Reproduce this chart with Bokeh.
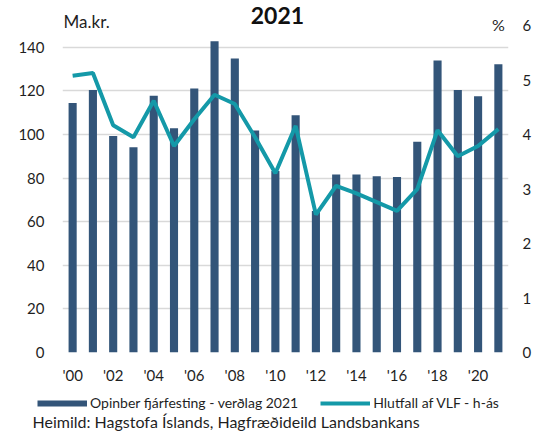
from bokeh.plotting import figure
from bokeh.layouts import column
from bokeh.models import Range1d, LinearAxis, FixedTicker, Legend, LegendItem, Label
from bokeh.embed import file_html
from bokeh.resources import INLINE

years = list(range(2000, 2022))
investment = [114.5, 120.4, 99.3, 94.2, 117.8, 102.9, 121.1, 142.8, 134.9, 101.9, 83.3,
              108.8, 64.9, 81.7, 81.7, 80.9, 80.5, 96.7, 134.0, 120.4, 117.6, 132.3]
share_gdp = [5.08, 5.13, 4.17, 3.95, 4.62, 3.79, 4.28, 4.73, 4.56, 3.95, 3.29,
             4.16, 2.53, 3.06, 2.92, 2.76, 2.60, 3.00, 4.08, 3.60, 3.79, 4.10]
tick_years = [2000, 2002, 2004, 2006, 2008, 2010, 2012, 2014, 2016, 2018, 2020]
tick_labels = ["'00", "'02", "'04", "'06", "'08", "'10", "'12", "'14", "'16", "'18", "'20"]
left_ticks = [0, 20, 40, 60, 80, 100, 120, 140]
right_ticks = [0, 1, 2, 3, 4, 5, 6]

BAR = "#335579"
LINE = "#1499a8"
TXT = "#1f1f1f"
FONT = "Lato"

Y_TOP = 161.5          # left-axis value at the top edge of the plot area
RATIO = 25.0           # left units per right-axis unit (150 <-> 6 %)

p = figure(width=549, height=386, output_backend="svg", toolbar_location=None,
           x_range=Range1d(1999.5, 2021.5), y_range=Range1d(0, Y_TOP),
           min_border_left=62, min_border_right=41, min_border_top=0, min_border_bottom=34,
           outline_line_color=None)
p.extra_y_ranges = {"pct": Range1d(0, Y_TOP / RATIO)}

p.xgrid.visible = False
p.ygrid.ticker = FixedTicker(ticks=left_ticks)
p.ygrid.grid_line_color = "#d9d9d9"
p.ygrid.grid_line_width = 1.5

bars = p.vbar(x=years, top=investment, width=0.4, fill_color=BAR, line_color=None)
line = p.line(x=years, y=share_gdp, y_range_name="pct", line_color=LINE, line_width=4)

def style_axis(ax, standoff):
    ax.axis_line_color = None
    ax.major_tick_line_color = None
    ax.minor_tick_line_color = None
    ax.major_tick_out = 0
    ax.major_tick_in = 0
    ax.minor_tick_out = 0
    ax.major_label_standoff = standoff
    ax.major_label_text_font = FONT
    ax.major_label_text_font_size = "15px"
    ax.major_label_text_color = TXT

xa = p.xaxis[0]
xa.ticker = FixedTicker(ticks=tick_years)
xa.major_label_overrides = {y: l for y, l in zip(tick_years, tick_labels)}
style_axis(xa, 13)

ya = p.yaxis[0]
ya.ticker = FixedTicker(ticks=left_ticks)
style_axis(ya, 18)

ra = LinearAxis(y_range_name="pct", ticker=FixedTicker(ticks=right_ticks))
style_axis(ra, 14)
p.add_layout(ra, "right")

p.add_layout(Label(x=2010.1, y=154.8, text="2021", text_align="center", text_baseline="middle",
                   text_font=FONT, text_font_style="bold", text_font_size="23px", text_color="#111111"))
p.add_layout(Label(x=1999.55, y=151.8, text="Ma.kr.", text_align="left", text_baseline="middle",
                   text_font=FONT, text_font_size="17px", text_color=TXT))
p.add_layout(Label(x=2021.0, y=150.5, text="%", text_align="center", text_baseline="middle",
                   text_font=FONT, text_font_size="16px", text_color=TXT))

# footer: legend + source
f = figure(width=549, height=52, output_backend="svg", toolbar_location=None,
           x_range=Range1d(0, 549), y_range=Range1d(0, 52),
           min_border_left=0, min_border_right=0, min_border_top=0, min_border_bottom=0,
           outline_line_color=None, x_axis_type=None, y_axis_type=None)
f.grid.visible = False
nan = float("nan")
bar_swatch = f.line(x=[nan], y=[nan], line_color=BAR, line_width=6, line_cap="butt")
line_swatch = f.line(x=[nan], y=[nan], line_color=LINE, line_width=4)

legend = Legend(items=[LegendItem(label="Opinber fjárfesting - verðlag 2021", renderers=[bar_swatch]),
                       LegendItem(label="Hlutfall af VLF - h-ás", renderers=[line_swatch])],
                orientation="horizontal", location=(37, 27), border_line_color=None,
                background_fill_alpha=0, padding=0, margin=0, spacing=22,
                glyph_width=50, glyph_height=16, label_height=16, label_standoff=3,
                label_text_font=FONT, label_text_font_size="14px", label_text_color=TXT)
f.add_layout(legend, "center")

f.add_layout(Label(x=32, y=17, text="Heimild: Hagstofa Íslands, Hagfræðideild Landsbankans",
                   text_align="left", text_baseline="middle",
                   text_font=FONT, text_font_size="16px", text_color=TXT))

for fig in (p, f):
    if hasattr(fig, "frame_align"):
        fig.frame_align = False

open("out.html", "w").write(file_html(column(p, f, spacing=0), INLINE))
